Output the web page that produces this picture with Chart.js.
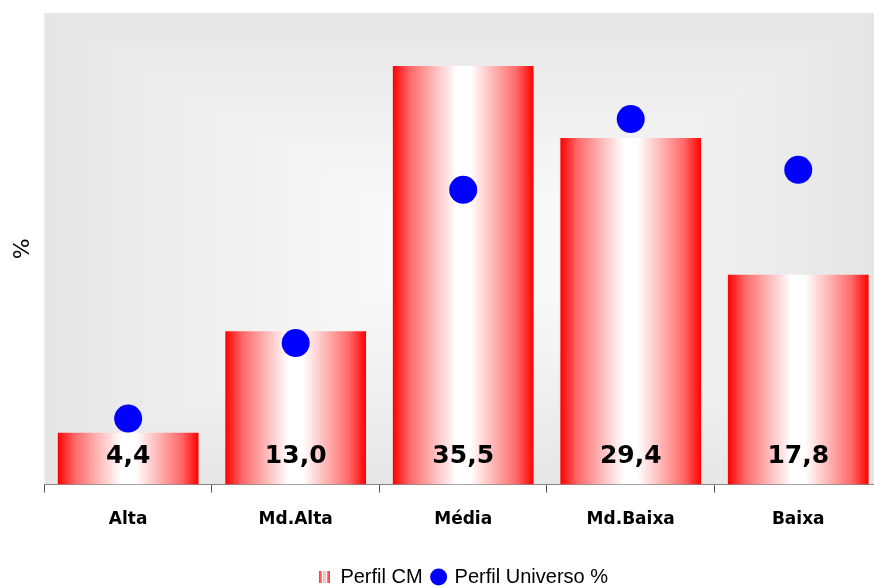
<!DOCTYPE html>
<html lang="pt">
<head>
    <meta charset="UTF-8">
    <title>Perfil CM vs Perfil Universo</title>
    <script src="https://cdn.jsdelivr.net/npm/chart.js"></script>
    <style>
        html, body { margin: 0; padding: 0; background: #fff; overflow: hidden; }
        #wrap { position: absolute; left: 0; top: 0; width: 884px; height: 587px; }
    </style>
</head>
<body>
    <div id="wrap"><canvas id="perfilChart" width="884" height="587"></canvas></div>

    <script>
        // dados
        const categorias = ['Alta', 'Md.Alta', 'Média', 'Md.Baixa', 'Baixa'];
        const perfilCM = [4.4, 13.0, 35.5, 29.4, 17.8];
        const perfilUniverso = [5.6, 12.0, 25.0, 31.0, 26.7];

        const BAR_PCT = 0.84;

        // gradiente vermelho-branco-vermelho em cada barra
        function barGradient(c) {
            const chart = c.chart;
            const xs = chart.scales.x;
            if (!xs || !chart.chartArea) return '#ff0000';
            const cx = xs.getPixelForValue(c.dataIndex);
            const half = (xs.width / categorias.length) * BAR_PCT / 2;
            const g = chart.ctx.createLinearGradient(cx - half, 0, cx + half, 0);
            g.addColorStop(0, '#ff0000');
            g.addColorStop(0.12, '#ff6868');
            g.addColorStop(0.3, '#ffbcbc');
            g.addColorStop(0.45, '#ffffff');
            g.addColorStop(0.55, '#ffffff');
            g.addColorStop(0.7, '#ffbcbc');
            g.addColorStop(0.88, '#ff6868');
            g.addColorStop(1, '#ff0000');
            return g;
        }

        // ícone da legenda para as barras
        const iconBar = document.createElement('canvas');
        iconBar.width = 11; iconBar.height = 12;
        (function () {
            const c = iconBar.getContext('2d');
            const g = c.createLinearGradient(0, 0, 11, 0);
            g.addColorStop(0, '#ff3030');
            g.addColorStop(0.5, '#ffd0d0');
            g.addColorStop(1, '#ff3030');
            c.fillStyle = g;
            c.fillRect(0, 0, 11, 12);
            c.fillStyle = '#ffffff';
            c.fillRect(3, 0, 1, 12);
            c.fillRect(7, 0, 1, 12);
        })();

        // fundo da área do gráfico (gradiente retangular)
        const fundoPlugin = {
            id: 'fundo',
            beforeDraw(chart) {
                const a = chart.chartArea;
                const ctx = chart.ctx;
                const w = 874 - a.left, h = a.bottom - a.top;
                const cx = a.left + w / 2, cy = a.top + h / 2;
                const n = 40;
                ctx.save();
                for (let i = 0; i < n; i++) {
                    const t = i / (n - 1);
                    const v = Math.round(0xe6 + (0xfa - 0xe6) * t);
                    ctx.fillStyle = 'rgb(' + v + ',' + v + ',' + v + ')';
                    const rw = w * (1 - t * 0.85), rh = h * (1 - t * 0.85);
                    ctx.fillRect(cx - rw / 2, cy - rh / 2, rw, rh);
                }
                ctx.restore();
            }
        };

        // rótulos dos valores dentro das barras
        const rotulosPlugin = {
            id: 'rotulos',
            afterDatasetsDraw(chart) {
                const ctx = chart.ctx;
                const meta = chart.getDatasetMeta(0);
                const y0 = chart.scales.y.getPixelForValue(0);
                ctx.save();
                ctx.font = 'bold 25px "DejaVu Sans"';
                ctx.fillStyle = '#000';
                ctx.textAlign = 'center';
                ctx.textBaseline = 'middle';
                meta.data.forEach((bar, i) => {
                    ctx.fillText(perfilCM[i].toFixed(1).replace('.', ','), bar.x, y0 - 28);
                });
                ctx.restore();
            }
        };

        const ctx = document.getElementById('perfilChart').getContext('2d');
        const perfilChart = new Chart(ctx, {
            type: 'bar',
            data: {
                labels: categorias,
                datasets: [{
                    label: 'Perfil CM',
                    data: perfilCM,
                    backgroundColor: barGradient,
                    borderWidth: 0,
                    barPercentage: BAR_PCT,
                    categoryPercentage: 1,
                    order: 2
                }, {
                    type: 'line',
                    label: 'Perfil Universo %',
                    data: perfilUniverso,
                    showLine: false,
                    pointRadius: 14,
                    pointHoverRadius: 14,
                    pointBackgroundColor: '#0000ff',
                    pointBorderWidth: 0,
                    borderColor: '#0000ff',
                    backgroundColor: '#0000ff',
                    order: 1
                }]
            },
            options: {
                responsive: false,
                animation: false,
                layout: { autoPadding: false, padding: { left: 0, top: 13, right: 2, bottom: -10 } },
                plugins: {
                    tooltip: { enabled: false },
                    legend: {
                        position: 'bottom',
                        fullSize: false,
                        labels: {
                            font: { family: '"Liberation Sans", Arial', size: 20 },
                            color: '#000',
                            padding: 10,
                            boxWidth: 12,
                            boxHeight: 12,
                            usePointStyle: true,
                            generateLabels() {
                                return [
                                    { text: 'Perfil CM', pointStyle: iconBar, fillStyle: '#ff0000', strokeStyle: 'transparent', lineWidth: 0, datasetIndex: 0 },
                                    { text: 'Perfil Universo %', pointStyle: 'circle', fillStyle: '#0000ff', strokeStyle: '#0000ff', lineWidth: 0, datasetIndex: 1 }
                                ];
                            }
                        }
                    }
                },
                scales: {
                    x: {
                        offset: true,
                        afterFit(s) { s.height += 10; },
                        grid: { display: true, drawOnChartArea: false, offset: true, tickLength: 8, color: '#555' },
                        border: { display: true, color: '#888', width: 1 },
                        ticks: { font: { family: '"DejaVu Sans"', size: 17, weight: 'bold' }, color: '#000', padding: 17 }
                    },
                    y: {
                        min: 0,
                        max: 40,
                        grid: { display: false },
                        border: { display: false },
                        ticks: { display: false },
                        title: { display: true, text: '%', font: { family: '"DejaVu Sans"', size: 22 }, color: '#000', padding: { top: 10, bottom: 0 } }
                    }
                }
            },
            plugins: [fundoPlugin, rotulosPlugin]
        });
    </script>
</body>
</html>
